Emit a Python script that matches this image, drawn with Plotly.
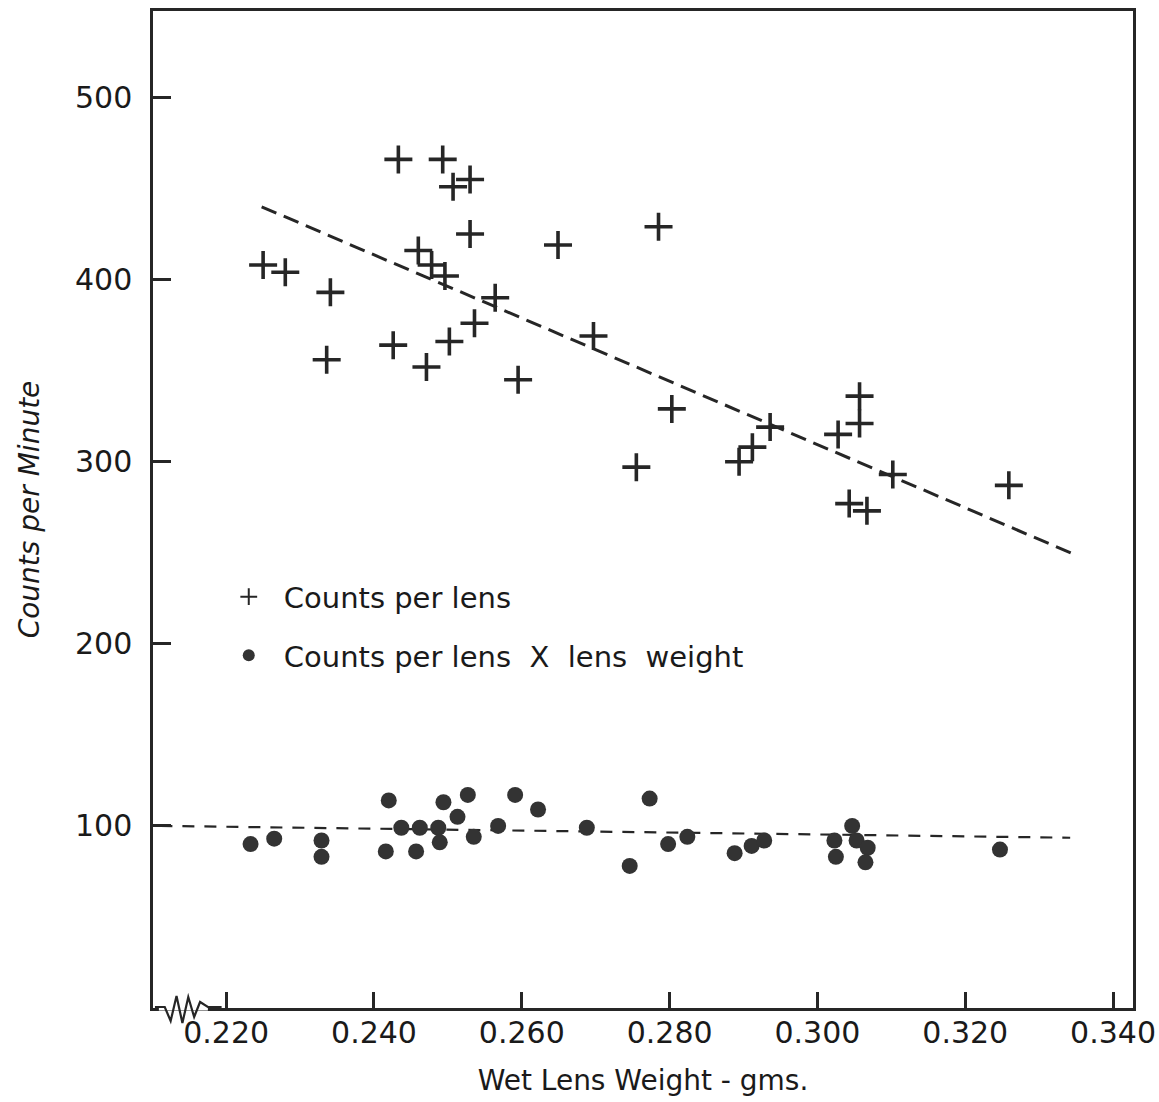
import plotly.graph_objects as go

# ---- data ----
cross_x = [0.2250, 0.2280, 0.2341, 0.2336, 0.2433, 0.2426, 0.2460, 0.2478, 0.2471,
           0.2493, 0.2496, 0.2502, 0.2507, 0.2530, 0.2530, 0.2536, 0.2564, 0.2595,
           0.2649, 0.2697, 0.2755, 0.2785, 0.2803, 0.2894, 0.2912, 0.2936, 0.3028,
           0.3043, 0.3057, 0.3057, 0.3067, 0.3102, 0.3259]
cross_y = [408, 404, 393, 356, 466, 364, 416, 408, 352,
           466, 402, 366, 451, 455, 425, 376, 390, 345,
           419, 369, 297, 429, 329, 300, 308, 319, 315,
           277, 336, 321, 273, 293, 287]

dot_x = [0.2233, 0.2265, 0.2329, 0.2329, 0.2416, 0.2420, 0.2437, 0.2457, 0.2462,
         0.2487, 0.2489, 0.2494, 0.2513, 0.2527, 0.2535, 0.2568, 0.2591, 0.2622,
         0.2688, 0.2746, 0.2773, 0.2798, 0.2824, 0.2888, 0.2911, 0.2928, 0.3023,
         0.3025, 0.3047, 0.3053, 0.3068, 0.3065, 0.3247]
dot_y = [90, 93, 92, 83, 86, 114, 99, 86, 99,
         99, 91, 113, 105, 117, 94, 100, 117, 109,
         99, 78, 115, 90, 94, 85, 89, 92, 92,
         83, 100, 92, 88, 80, 87]

fit_upper_x = [0.2248, 0.3348]
fit_upper_y = [440, 249]
fit_lower_x = [0.2111, 0.3342]
fit_lower_y = [100, 93.5]

x_ticks = [0.220, 0.240, 0.260, 0.280, 0.300, 0.320, 0.340]
x_ticktext = ["0.220", "0.240", "0.260", "0.280", "0.300", "0.320", "0.340"]
y_ticks = [100, 200, 300, 400, 500]
y_ticktext = ["100", "200", "300", "400", "500"]

INK = "#262626"
FONT = "DejaVu Sans"

fig = go.Figure()

fig.add_trace(go.Scatter(
    x=fit_upper_x, y=fit_upper_y, mode="lines",
    line=dict(color=INK, width=3, dash="16px,8px"),
    showlegend=False, hoverinfo="skip"))
fig.add_trace(go.Scatter(
    x=fit_lower_x, y=fit_lower_y, mode="lines",
    line=dict(color=INK, width=2.2, dash="12px,10px"),
    showlegend=False, hoverinfo="skip"))

fig.add_trace(go.Scatter(
    x=cross_x, y=cross_y, mode="markers", name="Counts per lens",
    legendgroup="a",
    marker=dict(symbol="cross-thin", size=20, line=dict(color=INK, width=3.6), color=INK)))
fig.add_trace(go.Scatter(
    x=dot_x, y=dot_y, mode="markers", name="Counts per lens  X  lens  weight",
    legendgroup="b",
    marker=dict(symbol="circle", size=16, color="#333333", line=dict(width=0))))

fig.update_layout(
    width=1159, height=1102,
    margin=dict(l=153, r=26, t=11, b=94, autoexpand=False),
    paper_bgcolor="white", plot_bgcolor="white",
    font=dict(family=FONT, color="#1a1a1a"),
    showlegend=True,
    legend=dict(
        x=0.062, y=0.438, xanchor="left", yanchor="top",
        bgcolor="rgba(0,0,0,0)", borderwidth=0,
        font=dict(family=FONT, size=29, color="#1a1a1a"),
        traceorder="grouped", tracegroupgap=18, itemsizing="constant",
        itemwidth=60),
    xaxis=dict(
        range=[0.2101, 0.3427], automargin=False,
        tickvals=x_ticks, ticktext=x_ticktext,
        ticks="inside", ticklen=16, tickwidth=2.5, tickcolor=INK,
        showline=True, linecolor=INK, linewidth=2.5, mirror=True,
        showgrid=False, zeroline=False,
        tickfont=dict(family=FONT, size=30, color="#1a1a1a"),
        ticklabelstandoff=-4,
        title=dict(text="Wet Lens Weight - gms.", standoff=22,
                   font=dict(family=FONT, size=28, color="#1a1a1a"))),
    yaxis=dict(
        range=[0, 547.5], automargin=False,
        tickvals=y_ticks, ticktext=y_ticktext,
        ticks="inside", ticklen=18, tickwidth=2.5, tickcolor=INK,
        showline=True, linecolor=INK, linewidth=2.5, mirror=True,
        showgrid=False, zeroline=False,
        tickfont=dict(family=FONT, size=30, color="#1a1a1a"),
        ticklabelstandoff=12,
        title=dict(text="Counts per Minute", standoff=28,
                   font=dict(family=FONT, size=28, color="#1a1a1a", style="italic"))),
)

# axis-break squiggle on the x axis near the origin
fig.add_shape(type="line", xref="x domain", yref="paper",
              x0=0.006, x1=0.056, y0=0, y1=0, line=dict(color="white", width=5))
fig.add_shape(type="path", xref="x domain", yref="paper",
              path="M 0.002 0.001 L 0.012 0.001 L 0.018 -0.013 L 0.024 0.012 L 0.030 -0.015 "
                   "L 0.036 0.011 L 0.042 -0.009 L 0.048 0.006 L 0.056 0.001 L 0.07 0.001",
              line=dict(color=INK, width=2.2))

fig.write_html("out.html")
